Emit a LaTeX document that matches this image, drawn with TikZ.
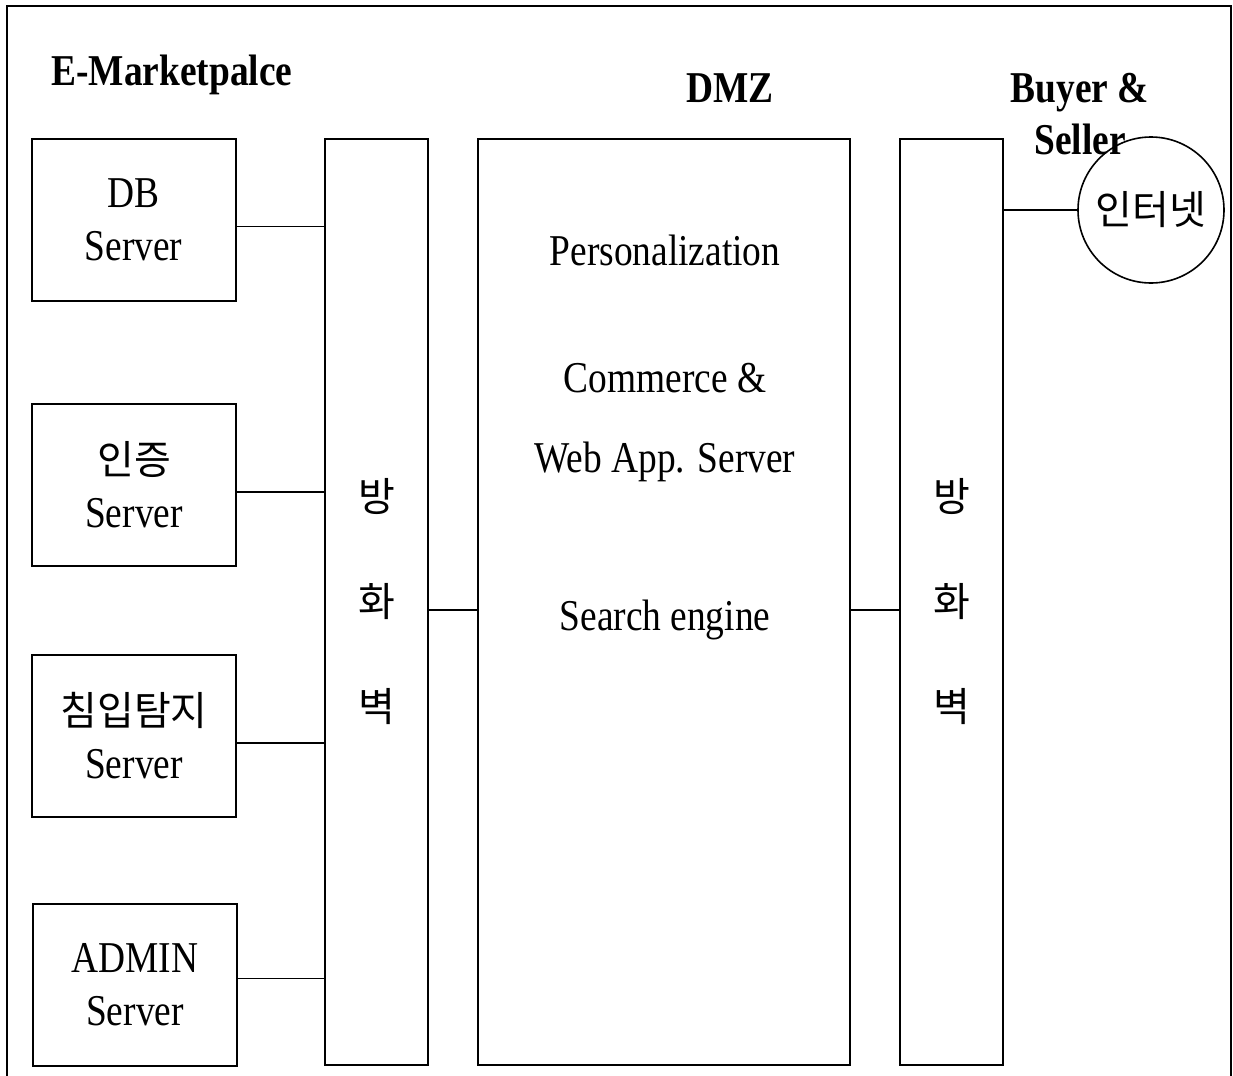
\documentclass[tikz,border=0pt]{standalone}
\usepackage{fontspec}
\setmainfont{Liberation Serif}[FakeStretch=0.85]
\newfontfamily\krfont{Noto Sans CJK KR}
\newcommand{\hangul}[1]{{\krfont\fontsize{20}{26.5}\selectfont #1}}
\usetikzlibrary{positioning}
\tikzset{
    server/.style = {
        draw,
        shape=rectangle,
        minimum width=102pt,
        minimum height=81pt,
        inner sep=0pt,
        line width=1pt,
        align=center,
        font=\fontsize{22}{26.5}\selectfont
    },
    wall/.style = {
        draw,
        shape=rectangle,
        minimum width=51.5pt,
        minimum height=463pt,
        inner sep=0pt,
        line width=1pt,
        align=center,
        font=\krfont\fontsize{20}{52.5}\selectfont
    },
    zone/.style = {
        draw,
        shape=rectangle,
        minimum width=186pt,
        minimum height=463pt,
        line width=1pt
    },
    web/.style = {
        draw,
        shape=circle,
        minimum size=73pt,
        inner sep=0pt,
        line width=0.8pt,
        font=\krfont\fontsize{20}{24}\selectfont
    },
    title/.style = {
        align=center,
        font=\bfseries\fontsize{22}{26}\selectfont
    },
    empty/.style = {
        align=center,
        font=\fontsize{22}{40}\selectfont
    },
    link/.style = {line width=0.8pt},
}

\begin{document}
\begin{tikzpicture}[x=0.5pt, y=-0.5pt]
        \useasboundingbox (0,0) rectangle (1233,1076);
        \draw[line width=0.7pt] (7,1076) -- (7,6) -- (1231,6) -- (1231,1076);

        \node[title] (market) at (172,75) {E-Marketpalce};
        \node[title] (dmzlabel) at (730,88) {DMZ};
        \node[title] (users) at (1080,114) {Buyer \&\\Seller};

        \node[server] (db) at (133.5,219.5) {DB\\Server};
        \node[server] (auth) at (134,485) {\hangul{인증}\\Server};
        \node[server] (ids) at (134,736) {\hangul{침입탐지}\\Server};
        \node[server] (admin) at (135,984.5) {ADMIN\\Server};

        \node[wall] (fwl) at (376.5,602) {방\\화\\벽};
        \node[zone] (dmz) at (664,602) {};
        \node[wall] (fwr) at (951.5,601.5) {방\\화\\벽};
        \node[web] (net) at (1151,210) {인터넷};

        \node[empty] (pers) at (665,250) {Personalization};
        \node[empty] (comm) at (665,423) {Commerce \&\\Web App. Server};
        \node[empty] (search) at (665,620) {Search engine};

        \path[draw, link] ([yshift=-3.5pt]db.east) -- ([yshift=-3.5pt]db.east -| fwl.west);
        \path[draw, link] ([yshift=-3.5pt]auth.east) -- ([yshift=-3.5pt]auth.east -| fwl.west);
        \path[draw, link] ([yshift=-3.5pt]ids.east) -- ([yshift=-3.5pt]ids.east -| fwl.west);
        \path[draw, link] ([yshift=3pt]admin.east) -- ([yshift=3pt]admin.east -| fwl.west);

        \path[draw, link] ([yshift=-4pt]fwl.east) -- ([yshift=-4pt]dmz.west);
        \path[draw, link] ([yshift=-4pt]dmz.east) -- ([yshift=-4pt]dmz.east -| fwr.west);
        \path[draw, link] (net.west -| fwr.east) -- (net.west);
    \end{tikzpicture}
\end{document}
